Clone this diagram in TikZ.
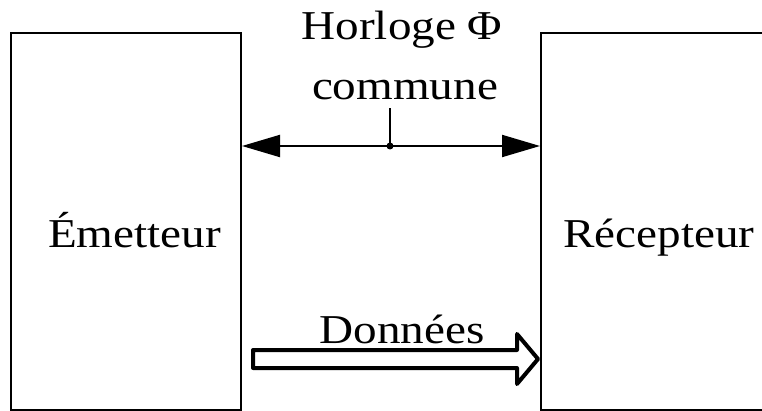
\documentclass[tikz,border=0pt]{standalone}
\usepackage{fontspec}
\setmainfont{Liberation Serif}
\usetikzlibrary{arrows.meta}
\newcommand{\etire}[1]{\scalebox{1.15}[1]{#1}}
\tikzset{
	bloc/.style={draw,line width=2,inner sep=0,minimum width=230,minimum height=377},
	texte/.style={anchor=base,inner sep=0,font=\fontsize{41}{49}\selectfont},
	horloge/.style={line width=2,{Triangle[length=38pt,width=22pt]}-{Triangle[length=38pt,width=22pt]}},
	donnees/.style={line width=4,line join=round}
}
\begin{document}
\begin{tikzpicture}[x=1pt,y=-1pt]
			\useasboundingbox (0,0) rectangle (762,411);
			\clip (0,0) rectangle (762,411);
			\node[bloc] (emet) at (126,221.5) {};
			\node[bloc] (recep) at (656,221.5) {};
			\node[texte] (temet) at (134.5,248) {\etire{Émetteur}};
			\node[texte] (trecep) at (659,248) {\etire{Récepteur}};
			\node[texte] (thor) at (402,40) {\etire{Horloge Φ}};
			\node[texte] (tcom) at (405,100) {\etire{commune}};
			\node[texte] (tdon) at (402,343) {\etire{Données}};
			\coordinate (M) at (390,146);
			\coordinate (T) at (390,108);
			\draw[horloge] (M -| emet.east) to (M -| recep.west);
			\draw[line width=2] (M) to (T);
			\fill (M) circle (3.5);
			\coordinate (D) at (253,359);
			\coordinate (F) at (538,359);
			\draw[donnees] (D) ++(0,-9) -- (517,350) -- (517,334) -- (F) -- (517,384) -- (517,368) -- (253,368) -- cycle;
		\end{tikzpicture}
\end{document}
